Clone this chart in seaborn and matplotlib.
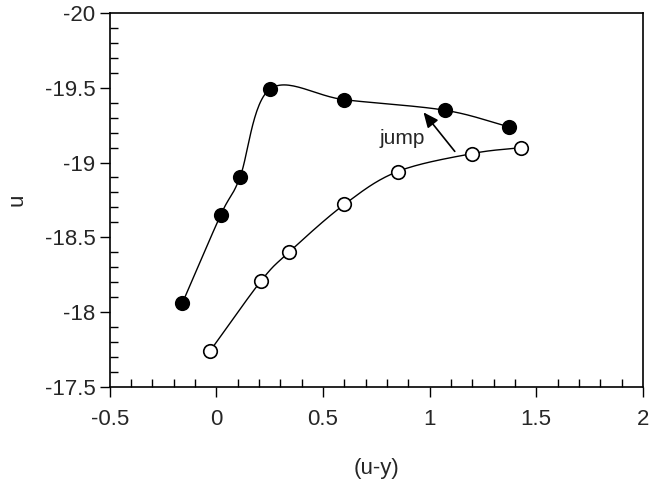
import matplotlib
matplotlib.use('Agg')
import matplotlib.pyplot as plt
import numpy as np
import pandas as pd
import seaborn as sns
from matplotlib.ticker import MultipleLocator, FuncFormatter

# Pontos
filled_x = [-0.16, 0.02, 0.11, 0.25, 0.60, 1.07, 1.37]
filled_u = [-18.06, -18.65, -18.90, -19.49, -19.42, -19.35, -19.24]
open_x = [-0.03, 0.21, 0.34, 0.60, 0.85, 1.20, 1.43]
open_u = [-17.74, -18.21, -18.40, -18.72, -18.94, -19.06, -19.10]


def smooth(xs, ys, n=30):
    # Curva Catmull-Rom passando pelos pontos (apenas para desenho)
    p = np.column_stack([xs, ys]) * np.array([1.0, 1.43])
    p = np.vstack([2 * p[0] - p[1], p, 2 * p[-1] - p[-2]])
    out = []
    for i in range(1, len(p) - 2):
        p0, p1, p2, p3 = p[i - 1], p[i], p[i + 1], p[i + 2]
        t = np.linspace(0, 1, n)[:, None]
        seg = 0.5 * ((2 * p1) + (-p0 + p2) * t + (2 * p0 - 5 * p1 + 4 * p2 - p3) * t ** 2
                     + (-p0 + 3 * p1 - 3 * p2 + p3) * t ** 3)
        out.append(seg)
    out = np.vstack(out) / np.array([1.0, 1.43])
    return pd.DataFrame({'x': out[:, 0], 'u': out[:, 1]})


sns.set_style('ticks')
plt.rcParams['font.family'] = ['Liberation Sans', 'DejaVu Sans']

fig = plt.figure(figsize=(6.5, 4.8), dpi=100)
ax = fig.add_axes([0.169, 0.194, 0.820, 0.779])

# Curvas suavizadas
sns.lineplot(data=smooth(filled_x, filled_u), x='x', y='u', sort=False, estimator=None,
             color='black', linewidth=1, ax=ax)
sns.lineplot(data=smooth(open_x, open_u), x='x', y='u', sort=False, estimator=None,
             color='black', linewidth=1, ax=ax)

# Pontos
ax.scatter(filled_x, filled_u, s=95, facecolor='black', edgecolor='black', linewidth=1.2, zorder=3)
ax.scatter(open_x, open_u, s=95, facecolor='white', edgecolor='black', linewidth=1.2, zorder=3)

# Seta "jump"
ax.annotate('', xy=(0.963, -19.35), xytext=(1.126, -19.06),
            arrowprops=dict(arrowstyle='-|>,head_length=0.9,head_width=0.4', color='black', lw=1.2))
ax.text(0.87, -19.16, 'jump', fontsize=15, ha='center', va='center')

ax.set_xlim(-0.5, 2)
ax.set_ylim(-17.5, -20)
ax.xaxis.set_major_locator(MultipleLocator(0.5))
ax.xaxis.set_minor_locator(MultipleLocator(0.1))
ax.yaxis.set_major_locator(MultipleLocator(0.5))
ax.yaxis.set_minor_locator(MultipleLocator(0.1))
ax.xaxis.set_major_formatter(FuncFormatter(lambda v, p: f'{v:g}'))
ax.yaxis.set_major_formatter(FuncFormatter(lambda v, p: f'{v:g}'))
ax.tick_params(which='major', direction='out', length=7, width=1, labelsize=16, color='black')
ax.tick_params(axis='x', which='major', pad=9)
ax.tick_params(which='minor', direction='in', length=6, width=1, color='black')
for s in ax.spines.values():
    s.set_linewidth(1.2)
    s.set_color('black')

ax.set_xlabel('(u-y)', fontsize=16, labelpad=20)
ax.set_ylabel('u', fontsize=16, labelpad=12)

fig.savefig('out.png', dpi=100)
